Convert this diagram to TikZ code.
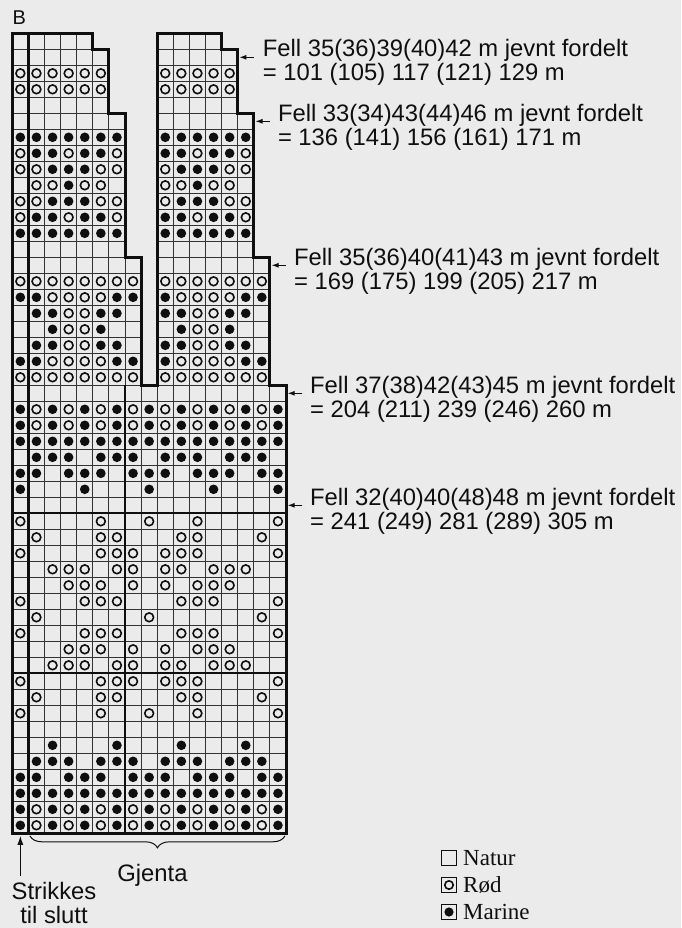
\documentclass[tikz,border=0pt]{standalone}
\usepackage{fontspec}
\setmainfont{Liberation Sans}
\newfontfamily\legfont{Liberation Serif}
\usetikzlibrary{arrows.meta,decorations.pathreplacing}
\definecolor{bgc}{RGB}{235,235,235}
\definecolor{ink}{RGB}{15,15,15}
\newcommand\gridbox[4]{%
  \foreach \i in {#1,...,#3}{\draw[gridline] (\i,#2) -- (\i,#4);}%
  \foreach \j in {#2,...,#4}{\draw[gridline] (#1,\j) -- (#3,\j);}%
}
\tikzset{
  gridline/.style={draw=ink!85, line width=0.9pt},
  outline/.style={draw=ink, line width=3pt, line join=miter},
  midline/.style={draw=ink, line width=1.8pt},
  dotc/.style={fill=ink},
  ringc/.style={draw=ink, line width=1.6pt},
  lbl/.style={font=\fontsize{23.8}{28}\selectfont, inner sep=0pt, anchor=base west, text=ink},
  arr/.style={draw=ink, line width=1pt, -{Latex[length=7pt,width=5pt]}},
  leg/.style={font=\legfont\fontsize{23}{28}\selectfont, inner sep=0pt, anchor=base west, text=ink},
  legbox/.style={draw=ink, line width=1pt, fill=bgc, minimum size=15pt, inner sep=0pt},
}
\begin{document}
\begin{tikzpicture}[x=1pt,y=-1pt]
\fill[bgc] (0,0) rectangle (681,928);
\useasboundingbox (0,0) rectangle (681,928);

\node[font=\fontsize{20}{24}\selectfont, inner sep=0pt, anchor=base west, text=ink] (B) at (12.5,25) {B};

\begin{scope}[shift={(12.3,833.3)}, x={(16.1pt,0pt)}, y={(0pt,16pt)}]
  % grid
  \gridbox{0}{0}{17}{28}
  \gridbox{0}{28}{8}{36}
  \gridbox{0}{36}{7}{45}
  \gridbox{0}{45}{6}{49}
  \gridbox{0}{49}{5}{50}
  \gridbox{9}{28}{16}{36}
  \gridbox{9}{36}{15}{45}
  \gridbox{9}{45}{14}{49}
  \gridbox{9}{49}{13}{50}
  % medium lines
  \draw[midline] (7,0) -- (7,28);
  \draw[midline] (0,10) -- (17,10);
  \draw[midline] (0,20) -- (17,20);
  % filled dots
  \foreach \r/\cs in {
    1/{0,2,...,16}, 2/{0,2,...,16}, 3/{0,...,16},
    4/{0,1,3,4,5,7,8,9,11,12,13,15,16},
    5/{1,2,3,5,6,7,9,10,11,13,14,15},
    6/{2,6,10,14},
    22/{0,4,8,12,16},
    23/{0,1,3,4,5,7,8,9,11,12,13,15,16},
    24/{1,2,3,5,6,7,9,10,11,13,14,15},
    25/{0,...,16}, 26/{0,2,...,16}, 27/{0,2,...,16},
    30/{0,1,6,7,9,14,15},
    31/{1,2,5,6,9,10,13,14},
    32/{2,5,10,13},
    33/{1,2,5,6,9,10,13,14},
    34/{0,1,6,7,9,14,15},
    38/{0,1,2,3,4,5,6,9,10,11,12,13,14},
    39/{1,2,4,5,9,10,12,13},
    40/{2,3,4,10,11,12},
    41/{3,11},
    42/{2,3,4,10,11,12},
    43/{1,2,4,5,9,10,12,13},
    44/{0,1,2,3,4,5,6,9,10,11,12,13,14}}{
    \foreach \c in \cs {\fill[dotc] (\c+0.5,\r-0.5) circle[radius=4.8pt];}
  }
  % open rings
  \foreach \r/\cs in {
    1/{1,3,...,15}, 2/{1,3,...,15},
    8/{0,5,8,11,16},
    9/{1,5,6,10,11,15},
    10/{0,5,6,7,9,10,11,16},
    11/{2,3,4,6,7,9,10,12,13,14},
    12/{3,4,5,7,9,11,12,13},
    13/{0,4,5,6,10,11,12,16},
    14/{1,8,15},
    15/{0,4,5,6,10,11,12,16},
    16/{3,4,5,7,9,11,12,13},
    17/{2,3,4,6,7,9,10,12,13,14},
    18/{0,5,6,7,9,10,11,16},
    19/{1,5,6,10,11,15},
    20/{0,5,8,11,16},
    26/{1,3,...,15}, 27/{1,3,...,15},
    29/{0,1,2,3,4,5,6,7,9,10,11,12,13,14,15},
    30/{2,3,4,5,10,11,12,13},
    31/{3,4,11,12},
    32/{3,4,11,12},
    33/{3,4,11,12},
    34/{2,3,4,5,10,11,12,13},
    35/{0,1,2,3,4,5,6,7,9,10,11,12,13,14,15},
    39/{0,3,6,11,14},
    40/{0,1,5,6,9,13,14},
    41/{1,2,4,5,9,10,12,13},
    42/{0,1,5,6,9,13,14},
    43/{0,3,6,11,14},
    47/{0,1,2,3,4,5,9,10,11,12,13},
    48/{0,1,2,3,4,5,9,10,11,12,13}}{
    \foreach \c in \cs {\draw[ringc] (\c+0.5,\r-0.5) circle[radius=4.4pt];}
  }
  % thick lines
  \draw[outline] (1,0) -- (1,50);
  \draw[outline] (0,0) -- (17,0) -- (17,28) -- (16,28) -- (16,36) -- (15,36) -- (15,45)
     -- (14,45) -- (14,49) -- (13,49) -- (13,50) -- (9,50) -- (9,28) -- (8,28) -- (8,36)
     -- (7,36) -- (7,45) -- (6,45) -- (6,49) -- (5,49) -- (5,50) -- (0,50) -- cycle;
  % anchors for connectors
  \coordinate (e1) at (14,48.5);
  \coordinate (e2) at (15,44.5);
  \coordinate (e3) at (16,35.5);
  \coordinate (e4) at (17,27.5);
  \coordinate (e5) at (17,20.5);
  \coordinate (ea) at (0.5,0);
  \coordinate (bl) at (1,0);
  \coordinate (br) at (17,0);
\end{scope}

% arrows with labels
\foreach \k in {1,...,5}{
  \coordinate (t\k) at ([xshift=1.7pt]e\k);
  \coordinate (s\k) at ([xshift=16pt]e\k);
  \draw[arr] (s\k) -- (t\k);
}
\node[lbl] (l1a) at ([xshift=25pt,yshift=0.3pt]e1) {Fell 35(36)39(40)42 m jevnt fordelt};
\node[lbl] (l1b) at ([xshift=25pt,yshift=-23.4pt]e1) {= 101 (105) 117 (121) 129 m};
\node[lbl] (l2a) at ([xshift=24pt,yshift=-0.3pt]e2) {Fell 33(34)43(44)46 m jevnt fordelt};
\node[lbl] (l2b) at ([xshift=24pt,yshift=-24pt]e2) {= 136 (141) 156 (161) 171 m};
\node[lbl] (l3a) at ([xshift=24pt]e3) {Fell 35(36)40(41)43 m jevnt fordelt};
\node[lbl] (l3b) at ([xshift=24pt,yshift=-23.7pt]e3) {= 169 (175) 199 (205) 217 m};
\node[lbl] (l4a) at ([xshift=24pt]e4) {Fell 37(38)42(43)45 m jevnt fordelt};
\node[lbl] (l4b) at ([xshift=24pt,yshift=-23.7pt]e4) {= 204 (211) 239 (246) 260 m};
\node[lbl] (l5a) at ([xshift=24pt]e5) {Fell 32(40)40(48)48 m jevnt fordelt};
\node[lbl] (l5b) at ([xshift=24pt,yshift=-23.7pt]e5) {= 241 (249) 281 (289) 305 m};

% brace
\coordinate (bl2) at ([xshift=1.5pt,yshift=-2.5pt]bl);
\coordinate (br2) at ([xshift=-1pt,yshift=-2.5pt]br);
\draw[ink, line width=1pt, decorate, decoration={brace, mirror, amplitude=12pt}] (bl2) -- (br2);
\node[lbl, anchor=base] (gj) at (152.5,881) {Gjenta};

% Strikkes til slutt
\coordinate (sa) at ([yshift=-2.5pt]ea);
\coordinate (sb) at (20.35,876);
\draw[arr, -{Latex[length=9pt,width=6pt]}] (sb) -- (sa);
\node[lbl, anchor=base] (st1) at (54,899.5) {Strikkes};
\node[lbl, anchor=base] (st2) at (54,923.5) {til slutt};

% legend
\node[legbox] (k1) at (449,858) {};
\node[legbox] (k2) at (449,885) {};
\node[legbox] (k3) at (449,912) {};
\draw[ringc] (k2.center) circle[radius=4.2pt];
\fill[dotc] (k3.center) circle[radius=4.6pt];
\node[leg] (k1t) at (463,865.5) {Natur};
\node[leg] (k2t) at (463,892.5) {Rød};
\node[leg] (k3t) at (463,919.5) {Marine};
\end{tikzpicture}
\end{document}
